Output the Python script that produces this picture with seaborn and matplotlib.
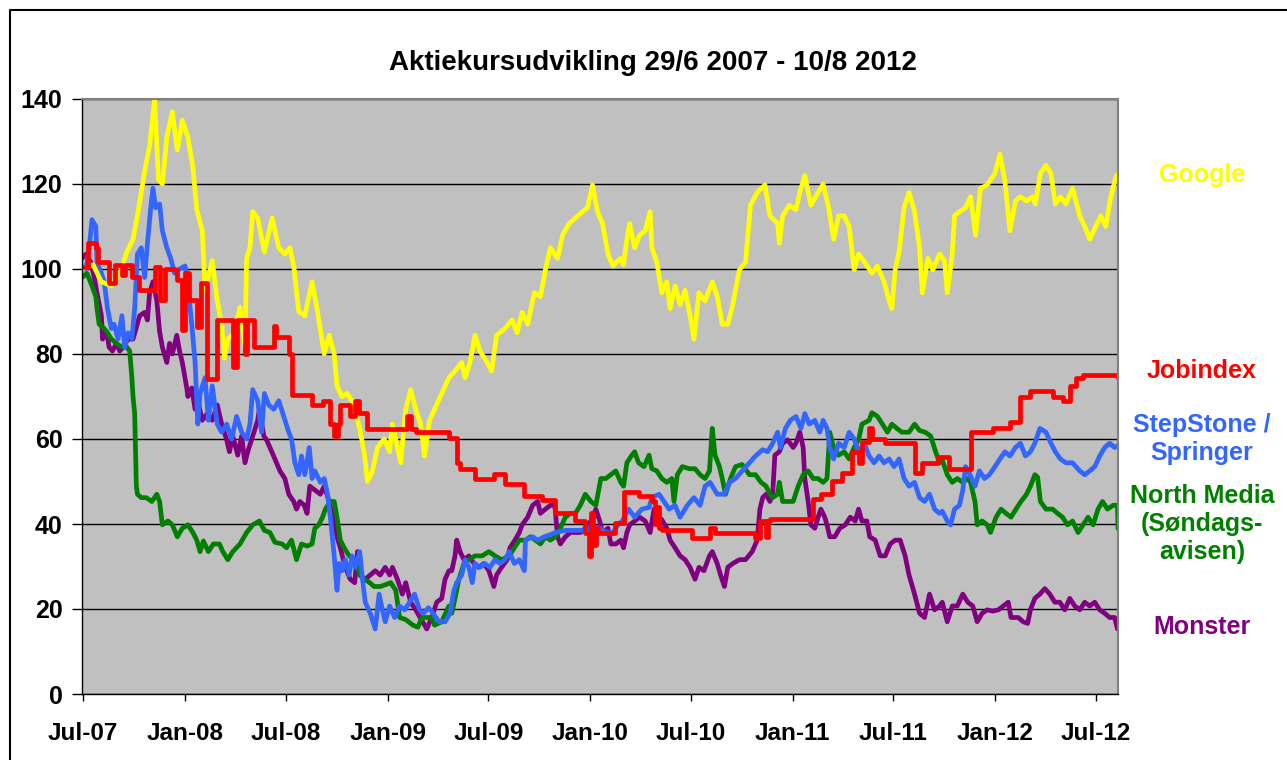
import matplotlib
matplotlib.use("Agg")
import matplotlib.pyplot as plt
import matplotlib.dates as mdates
import pandas as pd
import seaborn as sns
from matplotlib.lines import Line2D

sns.set_theme(style="white")
plt.rcParams["font.family"] = ["Liberation Sans", "DejaVu Sans"]
plt.rcParams["font.weight"] = "bold"
plt.rcParams["text.color"] = "black"

TITLE = "Aktiekursudvikling 29/6 2007 - 10/8 2012"

google_dates = [
    "2007-06-29", "2007-07-19", "2007-08-03", "2007-08-21", "2007-09-05", "2007-09-18", "2007-09-29", "2007-10-09", "2007-10-20", "2007-10-29",
    "2007-11-07", "2007-11-14", "2007-11-21", "2007-11-29", "2007-12-09", "2007-12-18", "2007-12-27", "2008-01-06", "2008-01-15", "2008-01-22",
    "2008-02-01", "2008-02-06", "2008-02-19", "2008-02-28", "2008-03-07", "2008-03-12", "2008-03-18", "2008-03-30", "2008-04-09", "2008-04-18",
    "2008-04-21", "2008-04-27", "2008-05-02", "2008-05-11", "2008-05-23", "2008-06-06", "2008-06-18", "2008-06-29", "2008-07-08", "2008-07-15",
    "2008-07-24", "2008-08-04", "2008-08-17", "2008-08-26", "2008-09-08", "2008-09-17", "2008-09-26", "2008-10-01", "2008-10-10", "2008-10-19",
    "2008-10-28", "2008-11-11", "2008-11-20", "2008-11-25", "2008-12-04", "2008-12-13", "2008-12-25", "2009-01-04", "2009-01-09", "2009-01-18",
    "2009-01-24", "2009-02-02", "2009-02-11", "2009-02-20", "2009-03-01", "2009-03-08", "2009-03-17", "2009-03-26", "2009-04-08", "2009-04-21",
    "2009-05-02", "2009-05-14", "2009-05-20", "2009-05-29", "2009-06-07", "2009-06-16", "2009-06-29", "2009-07-07", "2009-07-16", "2009-07-31",
    "2009-08-13", "2009-08-22", "2009-08-31", "2009-09-10", "2009-09-22", "2009-10-03", "2009-10-12", "2009-10-21", "2009-11-03", "2009-11-12",
    "2009-11-24", "2009-12-05", "2009-12-18", "2009-12-27", "2010-01-05", "2010-01-14", "2010-01-23", "2010-02-02", "2010-02-11", "2010-02-24",
    "2010-03-02", "2010-03-08", "2010-03-13", "2010-03-22", "2010-03-31", "2010-04-10", "2010-04-19", "2010-04-22", "2010-05-01", "2010-05-10",
    "2010-05-19", "2010-05-25", "2010-06-03", "2010-06-12", "2010-06-21", "2010-06-30", "2010-07-07", "2010-07-16", "2010-07-27", "2010-08-09",
    "2010-08-18", "2010-08-27", "2010-09-06", "2010-09-15", "2010-09-27", "2010-10-08", "2010-10-17", "2010-10-29", "2010-11-12", "2010-11-21",
    "2010-12-05", "2010-12-08", "2010-12-14", "2010-12-26", "2011-01-07", "2011-01-14", "2011-01-23", "2011-02-03", "2011-02-16", "2011-02-25",
    "2011-03-07", "2011-03-16", "2011-03-25", "2011-04-04", "2011-04-13", "2011-04-22", "2011-04-30", "2011-05-11", "2011-05-24", "2011-06-03",
    "2011-06-15", "2011-06-24", "2011-06-29", "2011-07-05", "2011-07-12", "2011-07-21", "2011-07-30", "2011-08-09", "2011-08-18", "2011-08-23",
    "2011-09-02", "2011-09-11", "2011-09-23", "2011-10-02", "2011-10-07", "2011-10-16", "2011-10-20", "2011-10-29", "2011-11-09", "2011-11-18",
    "2011-11-27", "2011-12-06", "2011-12-18", "2012-01-01", "2012-01-10", "2012-01-19", "2012-01-28", "2012-02-07", "2012-02-16", "2012-02-27",
    "2012-03-09", "2012-03-14", "2012-03-23", "2012-04-02", "2012-04-11", "2012-04-19", "2012-04-28", "2012-05-08", "2012-05-20", "2012-06-02",
    "2012-06-11", "2012-06-20", "2012-07-01", "2012-07-10", "2012-07-19", "2012-07-28", "2012-08-06", "2012-08-10",
]
google_values = [
    100, 101, 97, 96, 99, 104, 107, 114, 123, 129,
    140, 121, 120, 131, 137, 128, 135, 131, 124, 114,
    109, 95, 102, 92.5, 87, 79, 83.5, 85, 91, 82,
    102.5, 105, 113.5, 112, 104, 112, 105, 103.5, 105, 100.7,
    90, 89, 97, 90.7, 80, 84.4, 80, 72.5, 70, 70.7,
    69, 62.5, 56, 50, 52.5, 58, 60, 57, 63.5, 58,
    54.4, 67, 71.6, 67, 63.5, 56, 64.4, 67, 70.7, 74.4,
    76, 78, 74.4, 78, 84.4, 80.7, 78, 76, 84.4, 86,
    88, 85, 89.8, 87, 94.4, 93.5, 99.8, 105, 102.5, 108,
    110.7, 112, 113.5, 114.4, 119.8, 113.5, 110.7, 103.5, 100.7, 102.5,
    101, 107, 110.7, 105, 108, 109, 113.5, 105, 101.6, 94.4,
    97, 90.7, 96, 91.6, 95, 89, 83.5, 94.4, 92.5, 97,
    93.5, 87, 87, 91.6, 99.8, 101.6, 115, 118, 119.8, 112.5,
    110.7, 106, 112.5, 115, 114, 118, 122, 115, 118, 120,
    114.4, 107, 112.5, 112.5, 110, 99.8, 103.5, 101.6, 99, 100.7,
    97, 92.5, 90.7, 99.8, 104, 114.4, 118, 113.5, 105, 94.4,
    102.5, 99.8, 103.5, 102, 94.4, 103.5, 112.5, 113.5, 114.4, 117,
    108, 119, 119.8, 122.5, 127, 120.7, 109, 116, 117, 116,
    117, 115.3, 122.5, 124.4, 122.5, 115.3, 117, 115.3, 119, 112.5,
    110, 107, 110, 112.5, 110, 117, 121.6, 122.5,
]

jobindex_dates = [
    "2007-06-29", "2007-07-10", "2007-07-24", "2007-07-28", "2007-08-16", "2007-08-28", "2007-09-09", "2007-09-14", "2007-09-27", "2007-10-09",
    "2007-11-07", "2007-11-16", "2007-11-25", "2007-12-13", "2007-12-17", "2007-12-27", "2008-01-01", "2008-01-08", "2008-01-22", "2008-01-30",
    "2008-02-10", "2008-02-28", "2008-03-27", "2008-04-03", "2008-04-18", "2008-04-21", "2008-05-05", "2008-06-09", "2008-06-13", "2008-07-06",
    "2008-07-11", "2008-08-17", "2008-09-05", "2008-09-19", "2008-09-26", "2008-10-03", "2008-10-07", "2008-10-25", "2008-11-02", "2008-11-09",
    "2008-11-25", "2009-02-05", "2009-02-11", "2009-02-20", "2009-04-21", "2009-05-05", "2009-05-11", "2009-06-07", "2009-07-11", "2009-07-31",
    "2009-09-04", "2009-10-06", "2009-10-29", "2009-12-05", "2009-12-23", "2009-12-30", "2010-01-02", "2010-01-05", "2010-01-11", "2010-01-14",
    "2010-02-14", "2010-03-02", "2010-03-29", "2010-04-22", "2010-04-28", "2010-05-01", "2010-05-05", "2010-05-10", "2010-07-03", "2010-08-05",
    "2010-08-14", "2010-10-26", "2010-11-03", "2010-11-14", "2010-11-17", "2010-11-21", "2011-02-07", "2011-02-21", "2011-03-13", "2011-03-31",
    "2011-04-18", "2011-04-30", "2011-05-06", "2011-05-19", "2011-05-24", "2011-06-17", "2011-08-10", "2011-08-23", "2011-09-20", "2011-10-11",
    "2011-11-18", "2011-12-28", "2012-01-28", "2012-02-16", "2012-03-04", "2012-04-14", "2012-05-02", "2012-05-15", "2012-05-26", "2012-06-08",
    "2012-08-06", "2012-08-10",
]
jobindex_values = [
    100.5, 106, 105, 101.7, 96.6, 101, 98.5, 101, 98, 95,
    100.5, 92.7, 100, 99.8, 97.4, 85.6, 99, 92.7, 86.4, 96.6,
    74, 88, 77, 88, 80, 88, 81.7, 86.6, 84, 80,
    70.3, 68, 69, 63.5, 60.7, 63.5, 68, 65.3, 69, 66,
    62.4, 65.3, 62.4, 61.6, 60.3, 54.4, 53, 50.7, 51.7, 49.4,
    46.6, 45.7, 42.5, 40.7, 38, 32.5, 42.5, 35, 39, 38,
    40.3, 47.5, 46.6, 45.3, 40, 44, 39, 38.5, 36.6, 39,
    38, 36.6, 40.7, 37, 40.7, 41.2, 46, 47, 50, 52,
    57, 54.4, 59.4, 62.5, 60, 59, 52, 54.4, 55.7, 53,
    61.6, 62.5, 64, 69.8, 71.2, 69.8, 69, 72.5, 74.4, 75,
    75, 74.4,
]

stepstone_dates = [
    "2007-06-29", "2007-07-06", "2007-07-12", "2007-07-17", "2007-07-24", "2007-07-26", "2007-08-03", "2007-08-08", "2007-08-14", "2007-08-21",
    "2007-08-26", "2007-09-02", "2007-09-09", "2007-09-14", "2007-09-20", "2007-09-27", "2007-10-02", "2007-10-07", "2007-10-14", "2007-10-20",
    "2007-10-25", "2007-10-31", "2007-11-04", "2007-11-09", "2007-11-16", "2007-11-21", "2007-11-29", "2007-12-06", "2007-12-13", "2007-12-22",
    "2008-01-01", "2008-01-06", "2008-01-13", "2008-01-19", "2008-01-24", "2008-01-28", "2008-02-06", "2008-02-12", "2008-02-19", "2008-02-28",
    "2008-03-07", "2008-03-16", "2008-03-25", "2008-04-03", "2008-04-12", "2008-04-21", "2008-04-27", "2008-05-02", "2008-05-11", "2008-05-18",
    "2008-05-23", "2008-05-31", "2008-06-09", "2008-06-18", "2008-06-27", "2008-07-06", "2008-07-11", "2008-07-17", "2008-07-24", "2008-07-29",
    "2008-08-04", "2008-08-12", "2008-08-17", "2008-08-22", "2008-09-01", "2008-09-08", "2008-09-14", "2008-09-19", "2008-09-26", "2008-10-01",
    "2008-10-05", "2008-10-10", "2008-10-16", "2008-10-23", "2008-10-28", "2008-11-03", "2008-11-11", "2008-11-16", "2008-11-21", "2008-11-30",
    "2008-12-09", "2008-12-16", "2008-12-22", "2008-12-27", "2009-01-04", "2009-01-13", "2009-01-22", "2009-01-31", "2009-02-09", "2009-02-18",
    "2009-02-27", "2009-03-06", "2009-03-15", "2009-03-21", "2009-04-03", "2009-04-14", "2009-04-23", "2009-04-30", "2009-05-05", "2009-05-14",
    "2009-05-20", "2009-05-27", "2009-06-02", "2009-06-07", "2009-06-16", "2009-06-25", "2009-07-04", "2009-07-13", "2009-07-22", "2009-07-31",
    "2009-08-08", "2009-08-17", "2009-08-26", "2009-09-04", "2009-09-06", "2009-09-19", "2009-09-28", "2009-10-10", "2009-10-21", "2009-10-30",
    "2009-11-17", "2009-12-05", "2009-12-23", "2010-01-05", "2010-01-18", "2010-01-29", "2010-02-11", "2010-02-20", "2010-02-28", "2010-03-11",
    "2010-03-22", "2010-04-04", "2010-04-17", "2010-04-22", "2010-05-05", "2010-05-14", "2010-05-23", "2010-06-03", "2010-06-12", "2010-06-25",
    "2010-07-07", "2010-07-18", "2010-07-27", "2010-08-05", "2010-08-18", "2010-08-31", "2010-09-09", "2010-09-20", "2010-10-02", "2010-10-15",
    "2010-10-26", "2010-11-08", "2010-11-17", "2010-11-26", "2010-12-05", "2010-12-10", "2010-12-19", "2010-12-28", "2011-01-07", "2011-01-16",
    "2011-01-23", "2011-01-31", "2011-02-10", "2011-02-19", "2011-02-25", "2011-03-04", "2011-03-09", "2011-03-16", "2011-03-25", "2011-04-04",
    "2011-04-13", "2011-04-22", "2011-04-30", "2011-05-10", "2011-05-19", "2011-05-28", "2011-06-06", "2011-06-15", "2011-06-24", "2011-07-03",
    "2011-07-12", "2011-07-21", "2011-07-30", "2011-08-09", "2011-08-18", "2011-08-27", "2011-09-05", "2011-09-14", "2011-09-23", "2011-09-28",
    "2011-10-07", "2011-10-13", "2011-10-20", "2011-10-29", "2011-11-04", "2011-11-09", "2011-11-17", "2011-11-26", "2011-12-04", "2011-12-13",
    "2011-12-22", "2012-01-01", "2012-01-10", "2012-01-19", "2012-01-28", "2012-02-07", "2012-02-16", "2012-02-25", "2012-03-05", "2012-03-13",
    "2012-03-22", "2012-04-02", "2012-04-11", "2012-04-19", "2012-04-28", "2012-05-08", "2012-05-20", "2012-06-02", "2012-06-11", "2012-06-20",
    "2012-06-29", "2012-07-08", "2012-07-17", "2012-07-26", "2012-08-04", "2012-08-10",
]
stepstone_values = [
    100, 100, 105, 111.6, 110, 101.6, 99, 97, 90.7, 86,
    87, 83.5, 89, 81.6, 85, 83.5, 90.7, 103.5, 105, 98,
    106, 114.4, 119, 114.4, 115.3, 109, 105, 102.5, 99, 100,
    100.7, 96, 87, 78, 63.5, 70.7, 74.4, 64.4, 72.5, 63.5,
    61.6, 63.5, 60, 65.3, 61.6, 60, 63.5, 71.6, 69, 61.6,
    70.7, 68, 67, 69, 65.3, 61.6, 60, 54.4, 51.6, 56,
    51.6, 58, 50.7, 52.5, 49.8, 50.7, 47, 41.6, 32.5, 24.4,
    30.7, 29, 31.6, 28, 32.5, 29.8, 33.5, 27, 21.6, 19,
    15.3, 23.5, 19.8, 17, 20.7, 18, 20.7, 19.8, 21.6, 23.5,
    19.8, 19, 20.3, 19.4, 17, 17, 19, 24.4, 26.2, 28,
    31.6, 29.8, 26.2, 30.7, 29.8, 30.7, 29.8, 31.6, 30.7, 31.6,
    33.5, 30.7, 31.6, 29, 36.2, 37, 36.2, 37, 37.5, 38,
    38.5, 38.5, 38.5, 39.5, 39, 38, 38, 39.8, 40.7, 43.5,
    41.6, 43.5, 43.9, 46.2, 47, 45.3, 43.5, 44.4, 41.6, 44.4,
    46.2, 44.4, 48.9, 49.8, 47, 47, 49.8, 50.7, 52.5, 54.4,
    56, 57.5, 57, 59, 61.6, 58, 62.5, 64.4, 65.3, 62.5,
    66, 63.5, 64.4, 61.6, 64.4, 62.5, 58, 55.3, 59, 58,
    61.6, 60, 57, 59, 56, 54.4, 56, 54.4, 55.3, 53.5,
    55.3, 50.7, 48.9, 49.8, 46.2, 45.3, 47, 43.5, 42.5, 43,
    40.7, 39.8, 43.5, 44.4, 48, 53.5, 51.6, 48.9, 52.5, 50.7,
    51.6, 53.5, 55.3, 57, 56, 58, 59, 56, 57, 59,
    62.5, 61.6, 59, 57, 55.3, 54.4, 54.4, 52.5, 51.6, 52.5,
    53.5, 56, 58, 59, 58, 58.5,
]

northmedia_dates = [
    "2007-06-29", "2007-07-08", "2007-07-17", "2007-07-24", "2007-07-26", "2007-07-30", "2007-08-08", "2007-08-14", "2007-08-21", "2007-08-30",
    "2007-09-09", "2007-09-18", "2007-09-23", "2007-09-27", "2007-09-29", "2007-10-02", "2007-10-05", "2007-10-07", "2007-10-14", "2007-10-23",
    "2007-11-02", "2007-11-11", "2007-11-16", "2007-11-21", "2007-12-01", "2007-12-09", "2007-12-18", "2007-12-27", "2008-01-06", "2008-01-15",
    "2008-01-22", "2008-01-28", "2008-02-03", "2008-02-12", "2008-02-21", "2008-03-03", "2008-03-09", "2008-03-18", "2008-03-27", "2008-04-09",
    "2008-04-21", "2008-05-02", "2008-05-14", "2008-05-23", "2008-06-02", "2008-06-11", "2008-06-24", "2008-07-02", "2008-07-11", "2008-07-20",
    "2008-07-29", "2008-08-08", "2008-08-17", "2008-08-22", "2008-08-29", "2008-09-05", "2008-09-10", "2008-09-19", "2008-09-26", "2008-10-01",
    "2008-10-07", "2008-10-14", "2008-10-23", "2008-11-02", "2008-11-11", "2008-11-20", "2008-11-29", "2008-12-07", "2008-12-18", "2008-12-27",
    "2009-01-06", "2009-01-15", "2009-01-22", "2009-02-02", "2009-02-15", "2009-02-24", "2009-03-03", "2009-03-21", "2009-03-26", "2009-04-08",
    "2009-04-21", "2009-04-26", "2009-05-02", "2009-05-09", "2009-05-18", "2009-05-27", "2009-06-07", "2009-06-20", "2009-07-02", "2009-07-13",
    "2009-07-25", "2009-08-08", "2009-08-17", "2009-08-26", "2009-09-06", "2009-09-15", "2009-09-24", "2009-10-03", "2009-10-12", "2009-10-21",
    "2009-10-30", "2009-11-08", "2009-11-17", "2009-11-26", "2009-12-05", "2009-12-14", "2009-12-23", "2010-01-02", "2010-01-11", "2010-01-20",
    "2010-01-29", "2010-02-07", "2010-02-16", "2010-02-25", "2010-03-02", "2010-03-08", "2010-03-17", "2010-03-22", "2010-03-29", "2010-04-08",
    "2010-04-17", "2010-04-22", "2010-05-01", "2010-05-10", "2010-05-19", "2010-05-28", "2010-06-01", "2010-06-07", "2010-06-16", "2010-06-29",
    "2010-07-09", "2010-07-18", "2010-07-27", "2010-08-04", "2010-08-09", "2010-08-14", "2010-08-22", "2010-08-27", "2010-09-02", "2010-09-11",
    "2010-09-20", "2010-10-02", "2010-10-15", "2010-10-26", "2010-11-05", "2010-11-14", "2010-11-21", "2010-11-26", "2010-12-05", "2010-12-08",
    "2010-12-14", "2010-12-23", "2011-01-02", "2011-01-11", "2011-01-20", "2011-01-29", "2011-02-07", "2011-02-16", "2011-02-25", "2011-03-04",
    "2011-03-09", "2011-03-16", "2011-03-25", "2011-04-04", "2011-04-13", "2011-04-22", "2011-04-30", "2011-05-06", "2011-05-19", "2011-05-24",
    "2011-06-03", "2011-06-12", "2011-06-21", "2011-06-29", "2011-07-08", "2011-07-17", "2011-07-30", "2011-08-09", "2011-08-18", "2011-08-28",
    "2011-09-07", "2011-09-16", "2011-09-23", "2011-09-28", "2011-10-07", "2011-10-16", "2011-10-25", "2011-11-04", "2011-11-13", "2011-11-18",
    "2011-11-26", "2011-11-30", "2011-12-09", "2011-12-18", "2011-12-24", "2012-01-03", "2012-01-12", "2012-01-21", "2012-01-30", "2012-02-08",
    "2012-02-17", "2012-02-27", "2012-03-05", "2012-03-13", "2012-03-18", "2012-03-23", "2012-04-02", "2012-04-14", "2012-04-23", "2012-05-02",
    "2012-05-11", "2012-05-20", "2012-05-30", "2012-06-08", "2012-06-17", "2012-06-26", "2012-07-05", "2012-07-13", "2012-07-22", "2012-08-01",
    "2012-08-09", "2012-08-10",
]
northmedia_values = [
    98, 99, 96, 93.5, 90.7, 87, 86, 85, 83.5, 82.5,
    81.6, 81.6, 80.7, 74.4, 70, 66, 49, 47, 46.2, 46.2,
    45.3, 47, 45.3, 39.8, 40.7, 39.8, 37, 39, 39.8, 38,
    36.2, 33.5, 36, 33.5, 35.3, 35.3, 33.5, 31.6, 33.5, 35.3,
    38, 39.8, 40.7, 38.5, 38, 35.7, 35.3, 34.4, 36.2, 31.6,
    35.3, 34.8, 35.3, 39, 39.8, 41.6, 43.5, 45.3, 45.3, 41.6,
    36.2, 34.4, 32.5, 31.6, 28, 27, 26.2, 25.3, 25.3, 25.7,
    26.2, 24.4, 18, 17.5, 16.2, 15.7, 18, 18, 16.2, 17,
    20.7, 19, 22.5, 27, 30.7, 31.6, 32.5, 32.5, 33.5, 32.5,
    31.6, 32.5, 34.4, 36.2, 36.2, 37, 36.2, 35.3, 37, 36.2,
    37, 39, 41.6, 42.5, 42.5, 44.4, 47, 45.3, 44.4, 50.7,
    50.7, 51.6, 52.5, 49.8, 48.9, 54.4, 56.2, 57, 54.4, 53.5,
    56.2, 53, 52.5, 50.7, 49.8, 50.7, 45.3, 51.6, 53.5, 53,
    53, 51.6, 50.7, 52.5, 62.5, 56.2, 53.5, 50.7, 47, 50.7,
    53.5, 54, 51.6, 51.6, 49.8, 48.9, 47, 46.2, 47, 49.8,
    45.3, 45.3, 45.3, 48.9, 51.6, 52.5, 50.7, 50.7, 49.8, 50.7,
    61.6, 58, 56.2, 57, 55.3, 58, 59.8, 63.5, 64.4, 66.2,
    65.3, 63.5, 61.6, 63.5, 62.5, 61.6, 61.6, 63.5, 62, 61.6,
    60.7, 57, 54.4, 55, 51.6, 49.8, 50.7, 49.8, 50.7, 49.8,
    45.3, 39.8, 40.7, 39.8, 38, 41.6, 43.5, 42.5, 41.6, 43.5,
    45.3, 47, 48.9, 51.6, 51, 45.3, 43.5, 43.5, 42.5, 41.6,
    39.8, 40.7, 38, 39.8, 41.6, 39.8, 43.5, 45.3, 43.5, 44.4,
    44.4, 38.9,
]

monster_dates = [
    "2007-06-29", "2007-07-06", "2007-07-15", "2007-07-21", "2007-07-26", "2007-08-03", "2007-08-05", "2007-08-12", "2007-08-17", "2007-08-23",
    "2007-08-30", "2007-09-05", "2007-09-11", "2007-09-20", "2007-09-29", "2007-10-05", "2007-10-11", "2007-10-20", "2007-10-25", "2007-10-29",
    "2007-11-04", "2007-11-11", "2007-11-16", "2007-11-21", "2007-11-29", "2007-12-04", "2007-12-09", "2007-12-17", "2007-12-22", "2007-12-27",
    "2008-01-04", "2008-01-06", "2008-01-13", "2008-01-19", "2008-01-24", "2008-02-01", "2008-02-10", "2008-02-19", "2008-02-28", "2008-03-07",
    "2008-03-16", "2008-03-21", "2008-03-27", "2008-04-05", "2008-04-12", "2008-04-18", "2008-04-23", "2008-05-02", "2008-05-11", "2008-05-14",
    "2008-05-22", "2008-05-27", "2008-06-02", "2008-06-11", "2008-06-20", "2008-06-29", "2008-07-06", "2008-07-15", "2008-07-20", "2008-07-26",
    "2008-08-03", "2008-08-08", "2008-08-13", "2008-08-22", "2008-09-01", "2008-09-08", "2008-09-17", "2008-09-26", "2008-10-01", "2008-10-07",
    "2008-10-16", "2008-10-25", "2008-11-02", "2008-11-07", "2008-11-12", "2008-11-21", "2008-11-30", "2008-12-09", "2008-12-18", "2008-12-27",
    "2009-01-04", "2009-01-09", "2009-01-18", "2009-01-27", "2009-02-02", "2009-02-11", "2009-02-20", "2009-02-28", "2009-03-08", "2009-03-12",
    "2009-03-21", "2009-03-30", "2009-04-08", "2009-04-14", "2009-04-21", "2009-04-26", "2009-05-02", "2009-05-05", "2009-05-11", "2009-05-18",
    "2009-05-27", "2009-06-05", "2009-06-14", "2009-06-23", "2009-07-02", "2009-07-11", "2009-07-16", "2009-07-25", "2009-08-04", "2009-08-09",
    "2009-08-18", "2009-08-26", "2009-08-31", "2009-09-10", "2009-09-19", "2009-09-28", "2009-10-03", "2009-10-12", "2009-10-21", "2009-10-29",
    "2009-11-03", "2009-11-08", "2009-11-17", "2009-11-26", "2009-12-05", "2009-12-14", "2009-12-23", "2010-01-02", "2010-01-11", "2010-01-18",
    "2010-01-23", "2010-02-02", "2010-02-07", "2010-02-16", "2010-02-25", "2010-03-02", "2010-03-08", "2010-03-13", "2010-03-22", "2010-03-31",
    "2010-04-10", "2010-04-19", "2010-04-26", "2010-05-05", "2010-05-10", "2010-05-19", "2010-05-25", "2010-06-03", "2010-06-12", "2010-06-21",
    "2010-06-30", "2010-07-09", "2010-07-16", "2010-07-25", "2010-08-04", "2010-08-09", "2010-08-18", "2010-08-24", "2010-08-31", "2010-09-06",
    "2010-09-15", "2010-09-27", "2010-10-08", "2010-10-20", "2010-10-29", "2010-11-03", "2010-11-08", "2010-11-14", "2010-11-21", "2010-11-26",
    "2010-11-30", "2010-12-08", "2010-12-14", "2010-12-23", "2011-01-02", "2011-01-07", "2011-01-14", "2011-01-20", "2011-01-23", "2011-01-29",
    "2011-02-03", "2011-02-10", "2011-02-16", "2011-02-21", "2011-02-28", "2011-03-04", "2011-03-09", "2011-03-18", "2011-03-27", "2011-04-06",
    "2011-04-15", "2011-04-24", "2011-04-30", "2011-05-06", "2011-05-15", "2011-05-20", "2011-05-30", "2011-06-08", "2011-06-17", "2011-06-26",
    "2011-07-05", "2011-07-14", "2011-07-23", "2011-07-30", "2011-08-09", "2011-08-18", "2011-08-27", "2011-09-05", "2011-09-14", "2011-09-23",
    "2011-09-28", "2011-10-07", "2011-10-16", "2011-10-25", "2011-11-04", "2011-11-13", "2011-11-22", "2011-11-30", "2011-12-09", "2011-12-18",
    "2011-12-28", "2012-01-07", "2012-01-16", "2012-01-25", "2012-01-30", "2012-02-12", "2012-02-21", "2012-02-29", "2012-03-05", "2012-03-13",
    "2012-03-22", "2012-03-31", "2012-04-09", "2012-04-18", "2012-04-27", "2012-05-06", "2012-05-15", "2012-05-24", "2012-06-02", "2012-06-11",
    "2012-06-20", "2012-06-29", "2012-07-08", "2012-07-17", "2012-07-26", "2012-08-04", "2012-08-09", "2012-08-10",
]
monster_values = [
    102.5, 103.5, 101.6, 98, 94.4, 89, 83.5, 85.3, 81.6, 80.7,
    82.5, 80.7, 81.6, 83.5, 83.5, 86.2, 89, 89.8, 88, 94.4,
    97, 92.5, 85.3, 81.6, 78, 82.5, 80, 84.4, 80.7, 78,
    72, 70, 72, 67, 69, 64.4, 66, 64.4, 68, 63.5,
    59.8, 57, 60.7, 56.2, 60.7, 54.4, 57, 60.7, 64.4, 67,
    60.7, 59.8, 58, 55.3, 52.5, 50.7, 47, 45.3, 43.5, 45.3,
    44.4, 42.5, 48.9, 48, 47, 48.9, 45.3, 40.7, 37, 34.4,
    29.8, 27, 26.2, 33.5, 28, 27, 28, 29, 28, 29.8,
    28, 29.8, 27, 23.5, 26.2, 21.6, 19.8, 18, 16.2, 15.3,
    18, 21.6, 22.5, 27, 29, 29, 32.5, 36.2, 33.5, 31.6,
    32.5, 30.7, 29.8, 30.7, 29, 25.3, 28, 29.8, 31.6, 34.4,
    36.2, 38, 39.8, 41.6, 44.4, 45.3, 42.5, 43.5, 44.4, 44.4,
    37, 35.3, 37, 38, 38, 38, 39, 40.7, 43.5, 40.7,
    38, 39, 35.3, 35.3, 36.2, 34.4, 38, 39.8, 40.7, 41.6,
    40.7, 38, 43.5, 41.6, 41, 39, 36.2, 34.4, 32.5, 31.6,
    29.8, 27, 29.8, 29, 32.5, 33.5, 30.7, 28, 25.3, 29.8,
    30.7, 31.6, 31.6, 33.5, 36.2, 43.5, 46.2, 47, 45.3, 47,
    56.2, 57, 59, 59.8, 58, 59, 61.6, 58, 50.7, 45.3,
    39.8, 39, 41.6, 43.5, 41.6, 39.8, 37, 37, 39, 39.8,
    41.6, 40.7, 43.5, 40.7, 40.7, 37, 36.2, 32.5, 32.5, 35.3,
    36.2, 36.2, 32.5, 28, 23.5, 19, 18, 23.5, 19.8, 20.7,
    21.6, 17, 20.7, 20.7, 23.5, 21.6, 20.7, 17, 19, 19.8,
    19.5, 19.8, 20.7, 21.6, 18, 18, 17, 16.6, 19.8, 22.5,
    23.5, 24.8, 23.5, 21.6, 21.6, 19.8, 22.5, 20.7, 19.8, 21.6,
    20.7, 21.6, 19.8, 19, 18, 18, 15.3, 16.2,
]

# drawing order: bottom to top
series = [
    ("Monster", monster_dates, monster_values, "#800080", "default"),
    ("North Media\n(Søndags-\navisen)", northmedia_dates, northmedia_values, "#008000", "default"),
    ("StepStone /\nSpringer", stepstone_dates, stepstone_values, "#3366FF", "default"),
    ("Google", google_dates, google_values, "#FFFF00", "default"),
    ("Jobindex", jobindex_dates, jobindex_values, "#FF0000", "steps-post"),
]
# label centre heights in figure pixels from the top
label_y = {"Google": 175, "Jobindex": 371, "StepStone /\nSpringer": 439,
           "North Media\n(Søndags-\navisen)": 524, "Monster": 627}

W, H = 1287, 760
fig = plt.figure(figsize=(W / 100, H / 100), dpi=100)
ax = fig.add_axes([82 / W, (H - 694) / H, (1118 - 82) / W, (694 - 99) / H])
ax.set_facecolor("#C0C0C0")

for name, dates, values, col, style in series:
    df = pd.DataFrame({"date": pd.to_datetime(dates), "value": values})
    sns.lineplot(data=df, x="date", y="value", ax=ax, color=col, lw=3.4,
                 errorbar=None, drawstyle=style, solid_joinstyle="round")
    fig.text(1202 / W, 1 - label_y[name] / H, name, color=col, ha="center",
             va="center", fontsize=18, fontweight="bold", linespacing=1.2)

ax.set_ylim(0, 140)
ax.set_yticks(range(0, 141, 20))
ax.set_xlim(pd.Timestamp("2007-06-29"), pd.Timestamp("2012-08-10"))
ax.xaxis.set_major_locator(mdates.MonthLocator(bymonth=[1, 7]))
ax.xaxis.set_major_formatter(mdates.DateFormatter("%b-%y"))
ax.set_xlabel("")
ax.set_ylabel("")

ax.yaxis.grid(True, color="black", lw=1)
ax.xaxis.grid(False)
ax.set_axisbelow(True)
ax.tick_params(axis="y", left=True, direction="out", length=7, width=1,
               pad=7, labelsize=18, colors="black")
ax.tick_params(axis="x", bottom=True, direction="out", length=5, width=1,
               pad=15, labelsize=17.5, colors="black")
for side in ["left", "bottom"]:
    ax.spines[side].set_color("black")
    ax.spines[side].set_linewidth(1)
for side in ["top", "right"]:
    ax.spines[side].set_color("#808080")
    ax.spines[side].set_linewidth(1.5)

fig.text(653 / W, 1 - 63 / H, TITLE, ha="center", va="center",
         fontsize=20, fontweight="bold", color="black")

# outer chart frame (left and top edges visible)
fig.add_artist(Line2D([10 / W, 10 / W, 1.0], [0.0, 1 - 10 / H, 1 - 10 / H],
                      color="black", lw=1.5))

fig.savefig("out.png", dpi=100)
